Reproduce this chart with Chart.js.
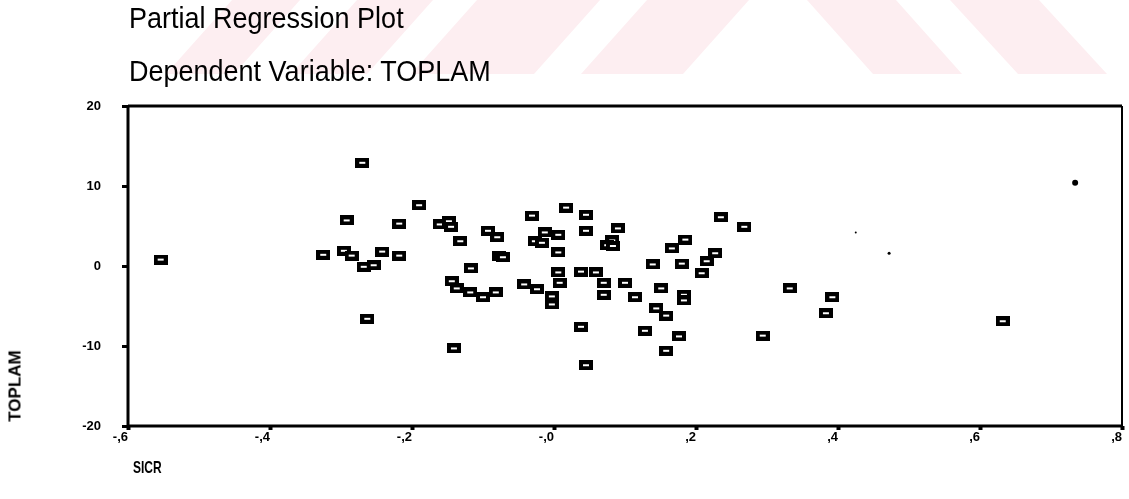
<!DOCTYPE html>
<html>
<head>
<meta charset="utf-8">
<title>Partial Regression Plot</title>
<script src="https://cdn.jsdelivr.net/npm/chart.js@4/dist/chart.umd.min.js"></script>
<style>
  body { margin: 0; background: #fff; }
  #wrap { position: relative; width: 1129px; height: 499px; overflow: hidden; }
  #chart { position: absolute; left: 0; top: 0; }
  .txt { position: absolute; font-family: "Liberation Sans", Arial, sans-serif; color: #000; white-space: nowrap; }
  .title { font-size: 27px; line-height: 27px; left: 129px; transform: scaleY(1.06); transform-origin: left top; }
  .axis { font-weight: bold; }
</style>
</head>
<body>
<div id="wrap">
  <canvas id="chart" width="1129" height="499"></canvas>
  <div class="txt title" style="top:5px">Partial Regression Plot</div>
  <div class="txt title" style="top:58px">Dependent Variable: TOPLAM</div>
  <div class="txt axis" style="left:133px;top:459px;font-size:12px;line-height:12px;transform:scaleY(1.4);transform-origin:left top">SICR</div>
  <div class="txt axis" style="left:15px;top:386px;font-size:17px;line-height:17px;transform:translate(-50%,-50%) rotate(-90deg)">TOPLAM</div>
</div>
<script>
// ---- data ----
const sicr = [
  -0.554, -0.270, -0.325, -0.292, -0.296, -0.285, -0.268, -0.254, -0.242, -0.218,
  -0.218, -0.190, -0.263, -0.161, -0.148, -0.145, -0.132, -0.144, -0.137, -0.118,
  -0.100, -0.082, -0.117, -0.141, -0.093, -0.080, -0.077, -0.072, -0.042, -0.024,
  -0.003, -0.003, -0.031, -0.013, -0.027, -0.017, 0.006, 0.006, 0.006, 0.008,
  0.017, 0.045, 0.045, 0.038, 0.038, 0.045, 0.059, 0.070, 0.070, 0.090,
  0.082, 0.075, 0.083, 0.100, 0.114, 0.128, 0.139, 0.144, 0.151, 0.158,
  0.158, 0.166, 0.185, 0.180, 0.176, 0.183, 0.183, 0.208, 0.215, 0.227,
  0.235, 0.268, 0.294, 0.332, 0.392, 0.383, 0.632
];
const toplam = [
  0.8, 12.9, 1.4, 5.7, 1.9, 1.3, -0.1, 0.1, 1.8, 1.3,
  5.3, 7.6, -6.6, 5.2, 5.6, 4.9, 3.1, -1.9, -2.8, -3.3,
  -3.9, -3.3, -0.3, -10.3, 4.4, 3.6, 1.2, 1.1, -2.3, -2.9,
  -3.8, -4.8, 6.3, 4.2, 3.1, 2.9, 3.9, 1.7, -0.8, -2.1,
  7.3, 6.4, 4.4, -0.7, -7.6, -12.4, -0.8, -2.1, -3.6, 4.7,
  3.2, 2.6, 2.5, -2.1, -3.9, -8.1, 0.2, -5.3, -2.8, -6.2,
  -10.6, 2.2, 3.3, 0.3, -8.8, -3.6, -4.3, -0.9, 0.6, 1.6,
  6.1, 4.9, -8.7, -2.8, -3.9, -5.9, -6.9
];
// stray specks on the scan
const speckX = [0.734, 0.472, 0.425];
const speckY = [10.4, 1.6, 4.2];

const xTicks = [-0.6, -0.4, -0.2, 0, 0.2, 0.4, 0.6, 0.8];
const xTickLabels = ["-,6", "-,4", "-,2", "-,0", ",2", ",4", ",6", ",8"];
const yTicks = [-20, -10, 0, 10, 20];
const yTickLabels = ["-20", "-10", "0", "10", "20"];

// rectangle marker like the SPSS one
const mark = document.createElement("canvas");
mark.width = 14;
mark.height = 10;
const g = mark.getContext("2d");
g.fillStyle = "#000";
g.fillRect(0, 0, 14, 10);
g.fillStyle = "#fff";
g.fillRect(4, 4, 6, 2);

const FONT = "'Liberation Sans', Arial, sans-serif";

// pink watermark stripes + frame of the plot box
const paper = {
  id: "paper",
  beforeDraw(chart) {
    const ctx = chart.ctx;
    ctx.save();
    ctx.fillStyle = "#fdeef1";
    const h = 74;
    const stripes = [
      [232, 300, -66], [357, 433, -66], [477, 600, -66],
      [647, 749, -66], [807, 896, 66], [950, 1039, 68]
    ];
    stripes.forEach(([a, b, d]) => {
      ctx.beginPath();
      ctx.moveTo(a, 0);
      ctx.lineTo(b, 0);
      ctx.lineTo(b + d, h);
      ctx.lineTo(a + d, h);
      ctx.closePath();
      ctx.fill();
    });
    ctx.restore();
  },
  afterDraw(chart) {
    const { left, right, top, bottom } = chart.chartArea;
    const ctx = chart.ctx;
    ctx.save();
    ctx.strokeStyle = "#000";
    ctx.lineWidth = 3;
    ctx.beginPath();
    ctx.moveTo(left, top);
    ctx.lineTo(right, top);
    ctx.moveTo(left, top);
    ctx.lineTo(left, bottom);
    ctx.moveTo(left, bottom);
    ctx.lineTo(right, bottom);
    ctx.stroke();
    ctx.lineWidth = 2;
    ctx.beginPath();
    ctx.moveTo(right, top);
    ctx.lineTo(right, bottom);
    ctx.stroke();
    ctx.restore();
  }
};

new Chart(document.getElementById("chart"), {
  type: "scatter",
  data: {
    datasets: [
      {
        data: sicr.map((x, i) => ({ x: x, y: toplam[i] })),
        pointStyle: mark,
        pointRadius: 6,
        pointHoverRadius: 6
      },
      {
        data: speckX.map((x, i) => ({ x: x, y: speckY[i] })),
        pointStyle: "circle",
        pointRadius: [3, 1.5, 1],
        backgroundColor: "#000",
        borderColor: "#000",
        borderWidth: 0
      }
    ]
  },
  options: {
    responsive: false,
    animation: false,
    devicePixelRatio: 1,
    layout: { padding: { left: 0, right: 2, top: 106, bottom: 0 } },
    plugins: { legend: { display: false }, tooltip: { enabled: false } },
    scales: {
      x: {
        type: "linear",
        min: -0.6,
        max: 0.8,
        afterBuildTicks: (s) => { s.ticks = xTicks.map((v) => ({ value: v })); },
        afterFit: (s) => { s.height = 73; },
        ticks: {
          callback: (v, i) => xTickLabels[i],
          color: "#000",
          font: { family: FONT, size: 13, weight: "bold" },
          padding: 0,
          align: "end",
          maxRotation: 0,
          autoSkip: false
        },
        grid: { drawOnChartArea: false, color: "#000", tickLength: 4, tickWidth: 4 },
        border: { display: false }
      },
      y: {
        type: "linear",
        min: -20,
        max: 20,
        afterBuildTicks: (s) => { s.ticks = yTicks.map((v) => ({ value: v })); },
        afterFit: (s) => { s.width = 128; },
        ticks: {
          callback: (v, i) => yTickLabels[i],
          color: "#000",
          font: { family: FONT, size: 13, weight: "bold" },
          padding: 21
        },
        grid: { drawOnChartArea: false, color: "#000", tickLength: 6, tickWidth: 3 },
        border: { display: false }
      }
    }
  },
  plugins: [paper]
});
</script>
</body>
</html>
